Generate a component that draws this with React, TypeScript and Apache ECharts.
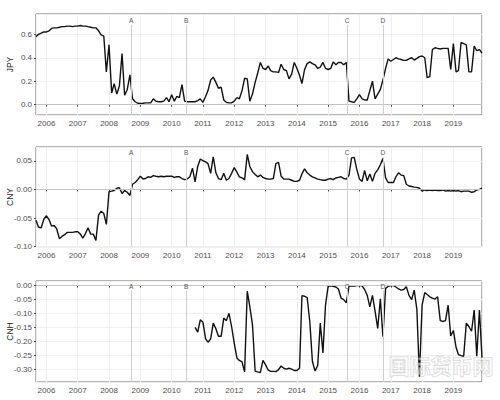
import React, { useEffect, useRef } from 'react';
import * as echarts from 'echarts';

// Monthly series, first value = Sep 2005
const START_YEAR = 2005;
const START_MONTH = 9;
// CNH begins Oct 2010 (61 months after Sep 2005)
const CNH_OFFSET = 61;

const jpy = [
  0.58, 0.60, 0.61, 0.62,
  0.62, 0.63, 0.65, 0.655, 0.655, 0.66, 0.665, 0.665, 0.67, 0.67, 0.665, 0.67,
  0.67, 0.675, 0.67, 0.67, 0.665, 0.66, 0.655, 0.655, 0.63, 0.595, 0.585, 0.28,
  0.51, 0.10, 0.18, 0.09, 0.16, 0.435, 0.08, 0.13, 0.255, 0.05, 0.025, 0.012,
  0.01, 0.012, 0.015, 0.015, 0.015, 0.05, 0.03, 0.025, 0.025, 0.03, 0.06, 0.025,
  0.085, 0.03, 0.07, 0.06, 0.17, 0.03, 0.025, 0.025, 0.025, 0.025, 0.035, 0.05,
  0.02, 0.07, 0.12, 0.21, 0.235, 0.19, 0.14, 0.15, 0.04, 0.02, 0.015, 0.015,
  0.03, 0.06, 0.05, 0.12, 0.225, 0.22, 0.03, 0.09, 0.19, 0.27, 0.36, 0.31,
  0.30, 0.33, 0.29, 0.28, 0.28, 0.275, 0.345, 0.30, 0.29, 0.22, 0.26, 0.36,
  0.31, 0.25, 0.18, 0.30, 0.35, 0.365, 0.35, 0.34, 0.31, 0.32, 0.36, 0.31,
  0.30, 0.31, 0.365, 0.34, 0.36, 0.36, 0.34, 0.36, 0.03, 0.025, 0.02, 0.05,
  0.085, 0.05, 0.04, 0.04, 0.12, 0.20, 0.05, 0.09, 0.13, 0.21, 0.31, 0.39,
  0.37, 0.385, 0.40, 0.39, 0.385, 0.378, 0.378, 0.39, 0.40, 0.38, 0.395, 0.41,
  0.415, 0.40, 0.23, 0.24, 0.47, 0.485, 0.48, 0.475, 0.48, 0.48, 0.48, 0.30,
  0.52, 0.28, 0.29, 0.53, 0.52, 0.51, 0.28, 0.28, 0.50, 0.46, 0.47, 0.44,
];

const cny = [
  -0.054, -0.066, -0.067, -0.052,
  -0.046, -0.053, -0.064, -0.063, -0.069, -0.086, -0.082, -0.079, -0.075, -0.075, -0.075, -0.074,
  -0.074, -0.078, -0.085, -0.077, -0.067, -0.078, -0.078, -0.089, -0.045, -0.038, -0.042, -0.061,
  -0.004, -0.003, -0.002, 0.002, 0.003, -0.007, -0.002, -0.005, -0.0105, 0.009, 0.012, 0.017,
  0.023, 0.018, 0.019, 0.022, 0.021, 0.024, 0.023, 0.022, 0.023, 0.022, 0.023, 0.023,
  0.023, 0.021, 0.022, 0.022, 0.019, 0.017, 0.018, 0.022, 0.037, 0.013, 0.040, 0.053,
  0.050, 0.048, 0.045, 0.028, 0.057, 0.029, 0.019, 0.017, 0.028, 0.016, 0.019, 0.028,
  0.038, 0.030, 0.022, 0.020, 0.017, 0.061, 0.040, 0.031, 0.026, 0.022, 0.025, 0.021,
  0.019, 0.018, 0.018, 0.019, 0.045, 0.047, 0.023, 0.018, 0.018, 0.018, 0.016, 0.014,
  0.014, 0.016, 0.027, 0.036, 0.029, 0.025, 0.022, 0.020, 0.018, 0.017, 0.016, 0.016,
  0.018, 0.019, 0.017, 0.020, 0.021, 0.022, 0.019, 0.018, 0.025, 0.055, 0.056, 0.035,
  0.018, 0.014, 0.033, 0.015, 0.027, 0.014, 0.028, 0.034, 0.043, 0.054, 0.020, 0.012,
  0.012, 0.012, 0.022, 0.029, 0.025, 0.024, 0.009, 0.006, 0.005, 0.004, 0.0035, 0.002,
  -0.003, -0.001, -0.002, -0.001, -0.002, -0.001, -0.002, -0.002, -0.001, -0.003, -0.002, -0.003,
  -0.002, -0.003, -0.002, -0.004, -0.003, -0.003, -0.003, -0.005, -0.004, -0.001, 0.0, 0.002,
];

const cnh = [
  -0.149, -0.166, -0.122,
  -0.131, -0.190, -0.202, -0.190, -0.134, -0.154, -0.181, -0.181, -0.116, -0.125, -0.099, -0.146,
  -0.205, -0.258, -0.267, -0.272, -0.308, -0.020, -0.075, -0.140, -0.305, -0.308, -0.310, -0.267,
  -0.283, -0.302, -0.306, -0.306, -0.307, -0.300, -0.287, -0.295, -0.298, -0.295, -0.298, -0.303,
  -0.303, -0.295, -0.036, -0.038, -0.043, -0.13, -0.27, -0.305, -0.285, -0.134, -0.24, -0.07,
  -0.002, -0.001, -0.003, -0.005, -0.012, -0.045, -0.05, -0.061, -0.002, -0.001, -0.002, 0.0,
  0.0, -0.001, -0.014, -0.035, -0.076, -0.035, -0.09, -0.153, -0.047, -0.182, -0.01, -0.003,
  0.0, 0.0, -0.005, -0.012, -0.016, -0.014, -0.004, -0.035, -0.05, -0.016, -0.085, -0.325,
  -0.07, -0.025, -0.032, -0.04, -0.045, -0.048, -0.04, -0.125, -0.128, -0.125, -0.07, -0.18,
  -0.16, -0.22, -0.246, -0.25, -0.252, -0.134, -0.146, -0.163, -0.087, -0.252, -0.087, -0.258,
];

const eventLabels = ['A', 'B', 'C', 'D'];
const eventDates = ['2008-09-15', '2010-06-19', '2015-08-11', '2016-10-01'];

const monthTs = (i: number) => new Date(START_YEAR, START_MONTH - 1 + i, 1).getTime();
const dateTs = (s: string) => {
  const [y, m, d] = s.split('-').map(Number);
  return new Date(y, m - 1, d).getTime();
};

const X_MIN = monthTs(0);
const X_MAX = monthTs(jpy.length - 1);
const DAY = 24 * 3600 * 1000;

const panels = [
  { name: 'JPY', values: jpy, offset: 0, min: -0.088, max: 0.773, split: 5, dec: 1, tagY: 0.68, top: 14, height: 101 },
  { name: 'CNY', values: cny, offset: 0, min: -0.1005, max: 0.074, split: 3, dec: 2, tagY: 0.0565, top: 147, height: 100 },
  { name: 'CNH', values: cnh, offset: CNH_OFFSET, min: -0.344, max: 0.0164, split: 6, dec: 2, tagY: -0.018, top: 281, height: 101 },
];

const FONT = '"Liberation Sans", Arial, Helvetica, sans-serif';

const tagLabel = {
  show: true,
  position: 'end',
  distance: 1,
  formatter: '{b}',
  fontSize: 6.5,
  color: '#555555',
  fontFamily: FONT,
};
const vLine = { color: '#cfcfcf', width: 1, type: 'solid' };

export default function App() {
  const ref = useRef<HTMLDivElement>(null);

  useEffect(() => {
    if (!ref.current) return;
    const chart = echarts.init(ref.current, undefined, { renderer: 'svg' });

    const grid = panels.map((p) => ({
      left: 36,
      right: 18,
      top: p.top,
      height: p.height,
      containLabel: false,
      outerBoundsMode: 'none',
      show: true,
      borderColor: '#6a6a6a',
      borderWidth: 1,
      backgroundColor: '#ffffff',
    }));

    const xAxis = panels.map((p, k) => ({
      type: 'time',
      gridIndex: k,
      min: X_MIN,
      max: X_MAX,
      splitNumber: 14,
      minInterval: 365 * DAY,
      maxInterval: 366 * DAY,
      axisLine: { show: false },
      axisTick: { show: true, length: 2, lineStyle: { color: '#444', width: 1 } },
      axisLabel: {
        show: true,
        fontSize: 8,
        color: '#4d4d4d',
        fontFamily: FONT,
        margin: 4,
        showMinLabel: false,
        showMaxLabel: false,
        formatter: (v: number) => String(new Date(v).getFullYear()),
      },
      splitLine: { show: true, lineStyle: { color: '#efefef', width: 1 } },
    }));

    const yAxis = panels.map((p, k) => ({
      type: 'value',
      gridIndex: k,
      min: p.min,
      max: p.max,
      splitNumber: p.split,
      name: p.name,
      nameLocation: 'middle',
      nameGap: 22,
      nameMoveOverlap: false,
      nameTextStyle: { fontSize: 8.5, color: '#222', fontFamily: FONT },
      axisLine: { show: false },
      axisTick: { show: true, length: 2, lineStyle: { color: '#444', width: 1 } },
      axisLabel: {
        fontSize: 8,
        color: '#4d4d4d',
        fontFamily: FONT,
        margin: 4,
        showMinLabel: false,
        showMaxLabel: false,
        formatter: (v: number) => v.toFixed(p.dec),
      },
      splitLine: { show: true, lineStyle: { color: '#efefef', width: 1 } },
    }));

    const series = panels.map((p, k) => ({
      type: 'line',
      name: p.name,
      xAxisIndex: k,
      yAxisIndex: k,
      showSymbol: false,
      symbol: 'none',
      lineStyle: { color: '#111111', width: 1.4 },
      z: 3,
      data: p.values.map((v, i) => [monthTs(i + p.offset), v]),
      markLine: {
        silent: true,
        symbol: ['none', 'none'],
        lineStyle: vLine,
        label: tagLabel,
        data: [
          { yAxis: 0, name: '', label: { show: false }, lineStyle: { color: '#c4c4c4', width: 1, type: 'solid' } },
          ...eventDates.map((d, j) => [
            { name: eventLabels[j], coord: [dateTs(d), p.min], label: tagLabel, lineStyle: vLine },
            { name: eventLabels[j], coord: [dateTs(d), p.tagY], label: tagLabel, lineStyle: vLine },
          ]),
        ],
      },
    }));

    chart.setOption({
      animation: false,
      backgroundColor: '#ffffff',
      textStyle: { fontFamily: FONT },
      grid,
      xAxis,
      yAxis,
      series,
      graphic: [
        {
          type: 'text',
          left: 388,
          top: 354,
          z: 100,
          silent: true,
          style: {
            text: '国际货币网',
            fontSize: 21,
            fontWeight: 'bold',
            fontFamily: '"Noto Sans CJK SC", sans-serif',
            fill: 'rgba(255,255,255,0.5)',
            stroke: 'rgba(160,160,160,0.45)',
            lineWidth: 1,
          },
        },
      ],
    });

    return () => chart.dispose();
  }, []);

  return (
    <div
      ref={ref}
      style={{ position: 'fixed', left: 0, top: 0, width: 500, height: 400, background: '#fff' }}
    />
  );
}
